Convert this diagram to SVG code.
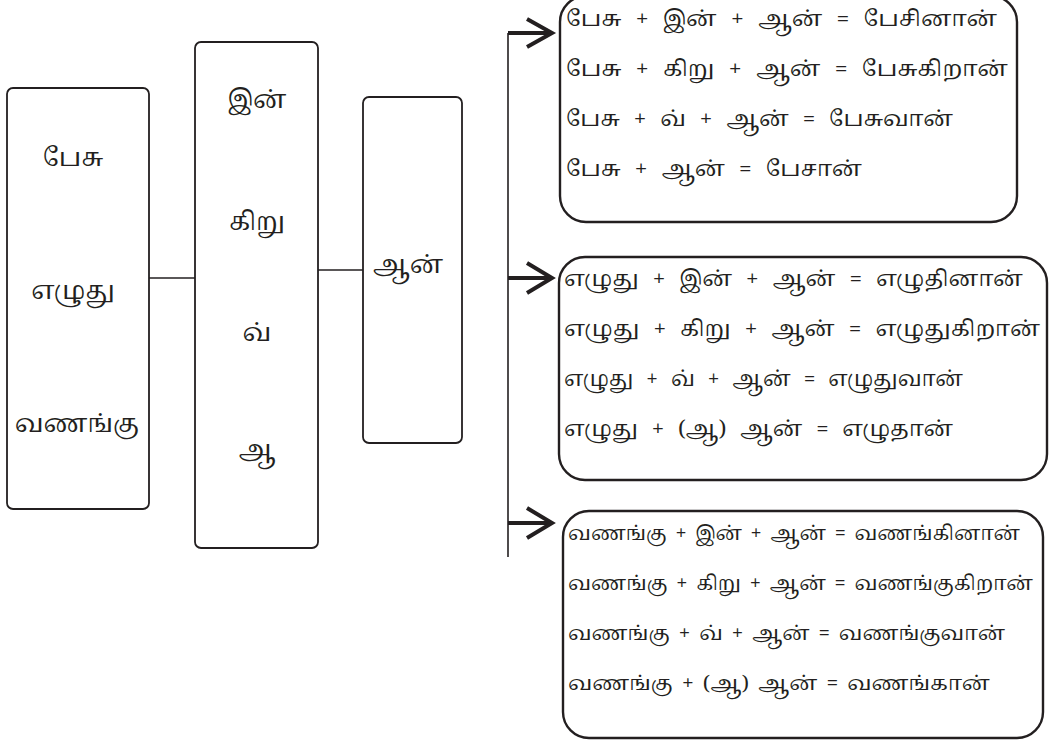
<svg xmlns="http://www.w3.org/2000/svg" width="1055" height="741" viewBox="0 0 1055 741">
<style>
.bx{fill:#fff;stroke:#231f20;stroke-width:1.8}
.rb{fill:none;stroke:#231f20;stroke-width:2.4}
.ln{fill:none;stroke:#231f20;stroke-width:1.6}
.ar{fill:none;stroke:#231f20;stroke-width:4;stroke-linejoin:miter}
text{font-family:"Noto Serif Tamil","Noto Sans Tamil","Lohit Tamil","Latha","Noto Sans",sans-serif;fill:#231f20}
.big{font-size:25px;text-anchor:middle}
.row{font-size:22px;word-spacing:8px}
.row6{font-size:20px;word-spacing:3.5px}
</style>
<rect width="1055" height="741" fill="#fff"/>
<g id="connectors">
<line class="ln" x1="149" y1="278" x2="195" y2="278"/>
<line class="ln" x1="318" y1="270" x2="363" y2="270"/>
<line class="ln" x1="508" y1="33" x2="508" y2="557" stroke-width="2"/>
<line class="ar" x1="508" y1="33" x2="550" y2="33" stroke-width="3.5"/>
<polyline class="ar" points="527,19 552,33 527,47"/>
<line class="ar" x1="508" y1="278" x2="550" y2="278" stroke-width="3.5"/>
<polyline class="ar" points="527,263 552,278 527,293"/>
<line class="ar" x1="508" y1="523" x2="550" y2="523" stroke-width="3.5"/>
<polyline class="ar" points="527,508 552,523 527,538"/>
</g>
<g id="stems">
<rect class="bx" x="7" y="88" width="142" height="421" rx="6"/>
<text class="big" x="73" y="166">பேசு</text>
<text class="big" x="73" y="299">எழுது</text>
<text class="big" x="77" y="432">வணங்கு</text>
</g>
<g id="tense">
<rect class="bx" x="195" y="42" width="123" height="506" rx="6"/>
<text class="big" x="257" y="108">இன்</text>
<text class="big" x="257" y="230">கிறு</text>
<text class="big" x="257" y="341">வ்</text>
<text class="big" x="257" y="458">ஆ</text>
</g>
<g id="suffix">
<rect class="bx" x="363" y="97" width="99" height="346" rx="6"/>
<text class="big" x="408" y="273">ஆன்</text>
</g>
<g id="pesu">
<rect class="rb" x="560" y="-4" width="457" height="226" rx="26"/>
<text class="row" x="566" y="26" textLength="431" lengthAdjust="spacingAndGlyphs">பேசு + இன் + ஆன் = பேசினான்</text>
<text class="row" x="566" y="76" textLength="442" lengthAdjust="spacingAndGlyphs">பேசு + கிறு + ஆன் = பேசுகிறான்</text>
<text class="row" x="566" y="126" textLength="387" lengthAdjust="spacingAndGlyphs">பேசு + வ் + ஆன் = பேசுவான்</text>
<text class="row" x="566" y="176" textLength="296" lengthAdjust="spacingAndGlyphs">பேசு + ஆன் = பேசான்</text>
</g>
<g id="ezhuthu">
<rect class="rb" x="559" y="257" width="488" height="223" rx="26"/>
<text class="row" x="564" y="286" textLength="459" lengthAdjust="spacingAndGlyphs">எழுது + இன் + ஆன் = எழுதினான்</text>
<text class="row" x="564" y="336" textLength="476" lengthAdjust="spacingAndGlyphs">எழுது + கிறு + ஆன் = எழுதுகிறான்</text>
<text class="row" x="564" y="386" textLength="399" lengthAdjust="spacingAndGlyphs">எழுது + வ் + ஆன் = எழுதுவான்</text>
<text class="row" x="564" y="436" textLength="389" lengthAdjust="spacingAndGlyphs">எழுது + (ஆ) ஆன் = எழுதான்</text>
</g>
<g id="vanangu">
<rect class="rb" x="563" y="511" width="480" height="227" rx="26"/>
<text class="row row6" x="568" y="540" textLength="452" lengthAdjust="spacingAndGlyphs">வணங்கு + இன் + ஆன் = வணங்கினான்</text>
<text class="row row6" x="568" y="590" textLength="465" lengthAdjust="spacingAndGlyphs">வணங்கு + கிறு + ஆன் = வணங்குகிறான்</text>
<text class="row row6" x="568" y="640" textLength="437" lengthAdjust="spacingAndGlyphs">வணங்கு + வ் + ஆன் = வணங்குவான்</text>
<text class="row row6" x="568" y="690" textLength="422" lengthAdjust="spacingAndGlyphs">வணங்கு + (ஆ) ஆன் = வணங்கான்</text>
</g>
</svg>
